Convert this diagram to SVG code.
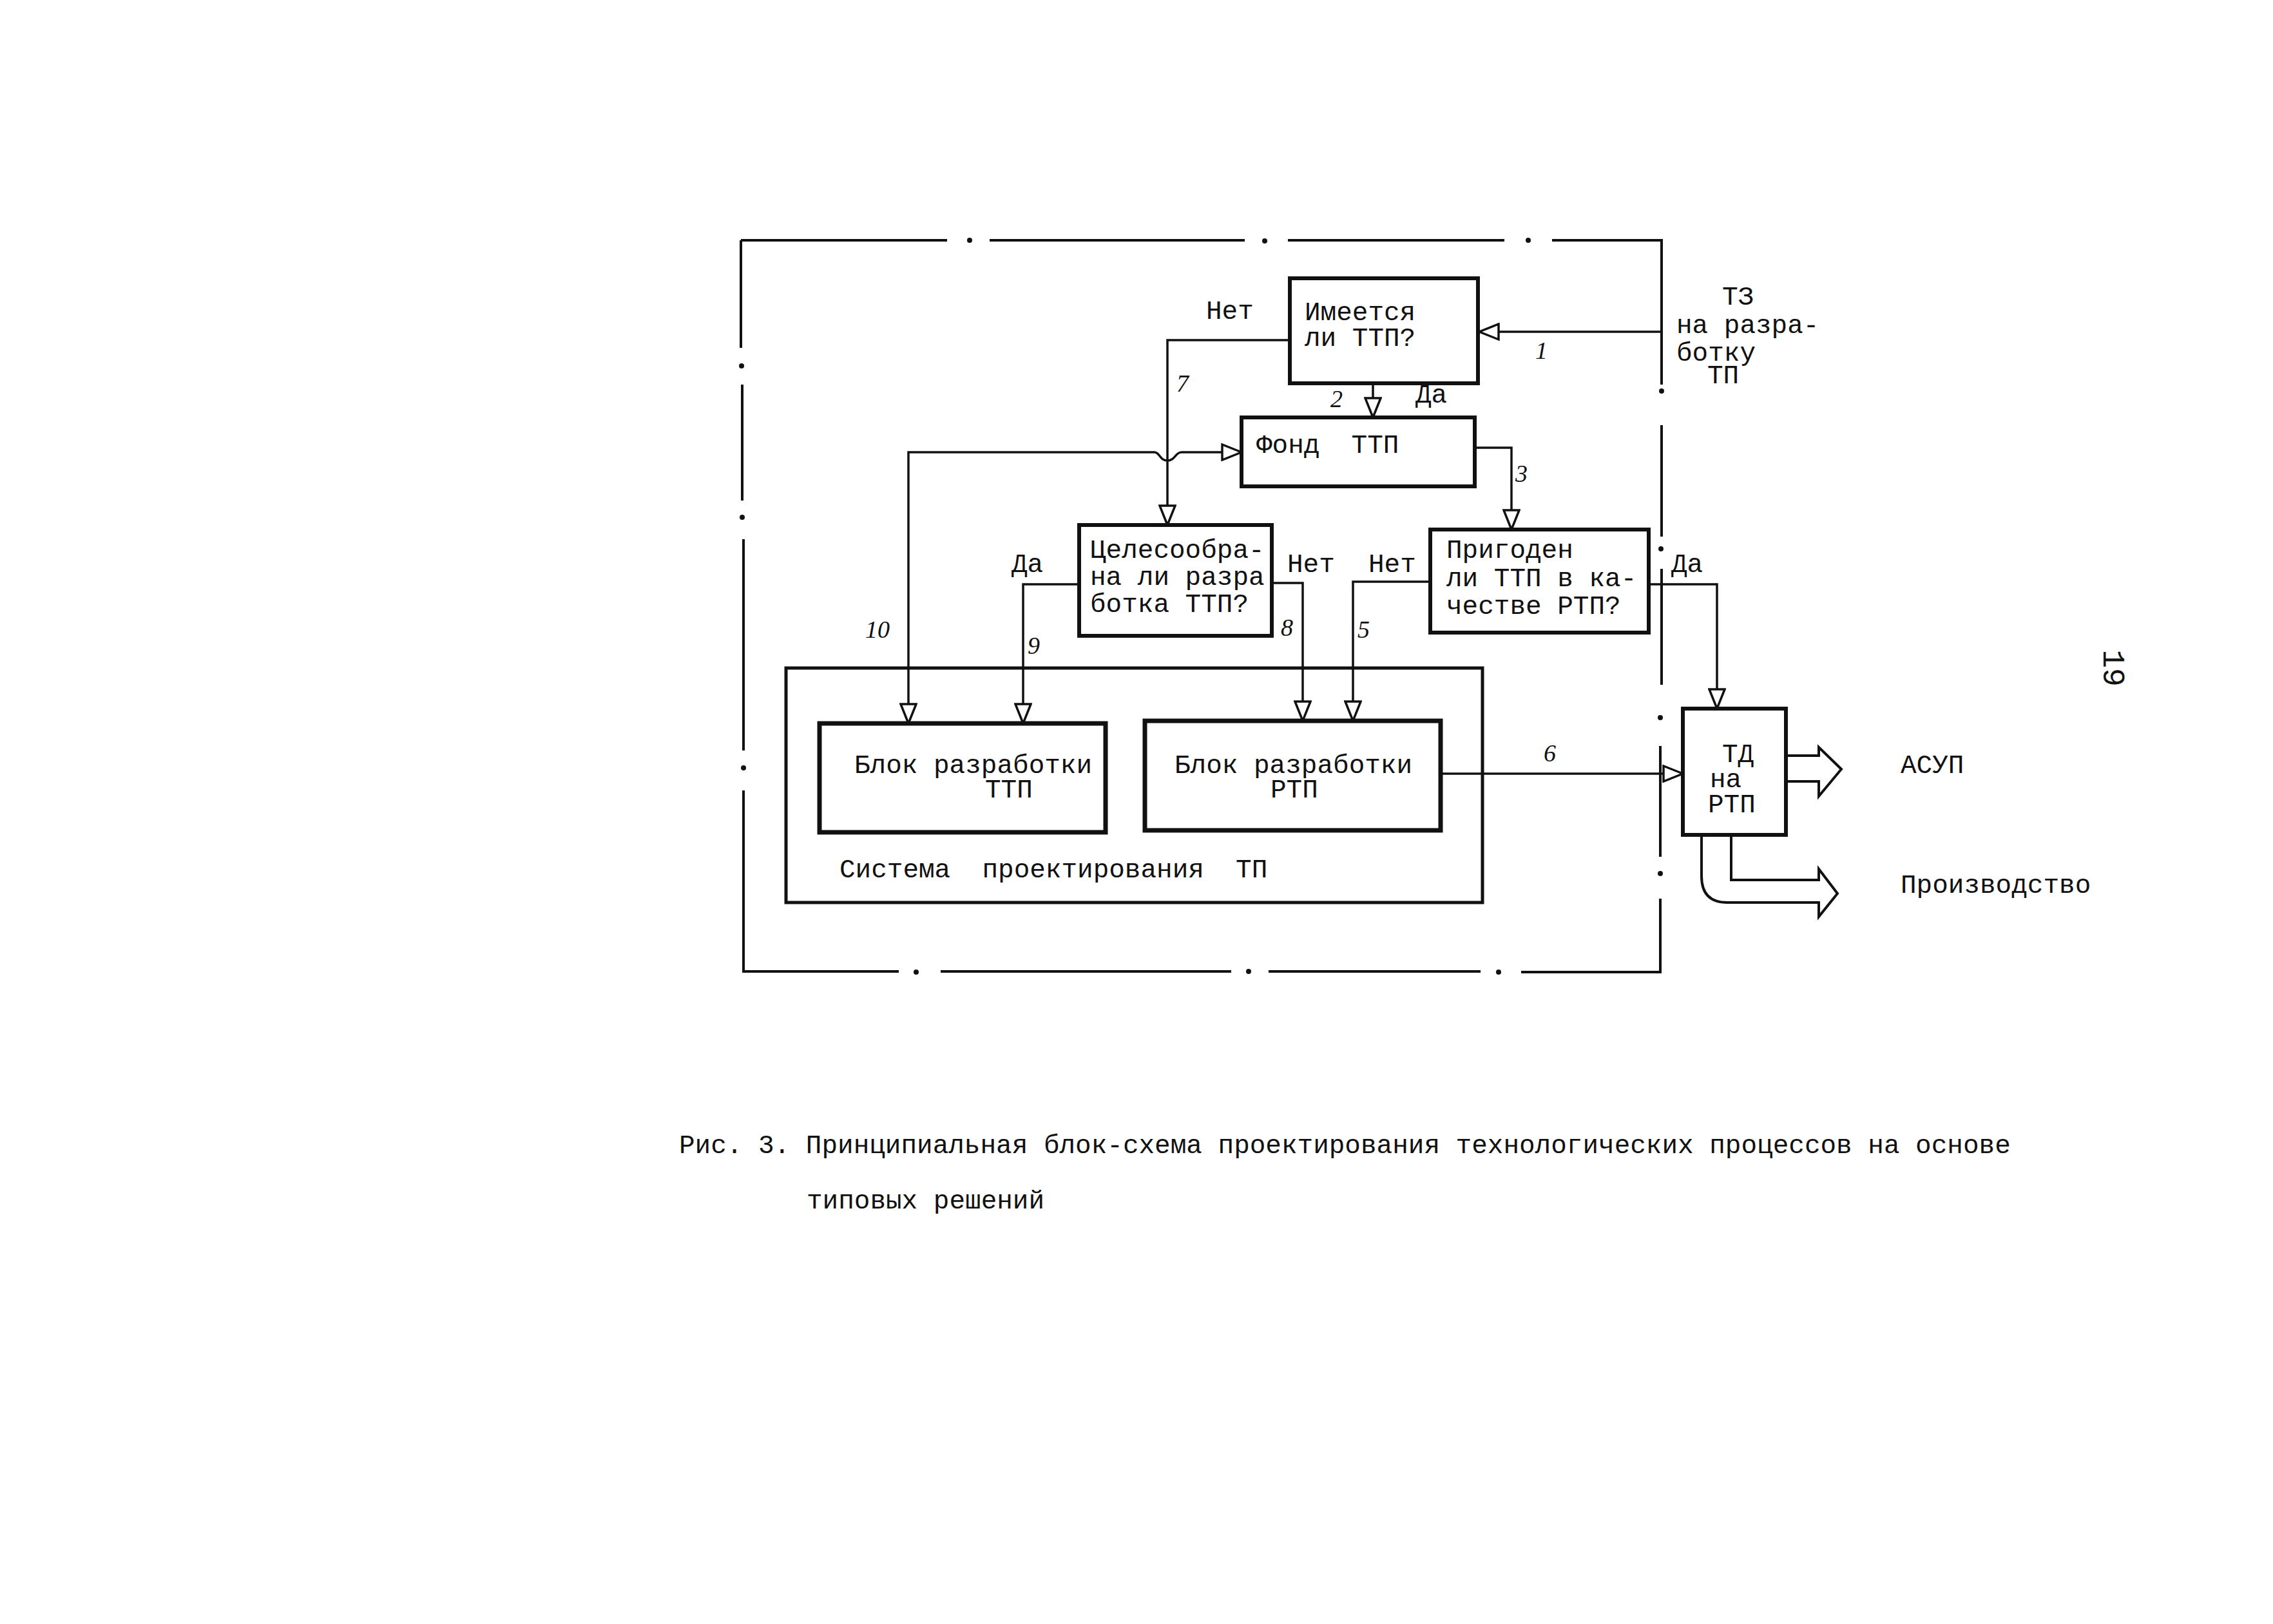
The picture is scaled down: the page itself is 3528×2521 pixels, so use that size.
<svg xmlns="http://www.w3.org/2000/svg" width="3528" height="2521" viewBox="0 0 3528 2521">
<style>
.t{font-family:"Liberation Mono","DejaVu Sans Mono",monospace;font-size:41px;fill:#111}
.n{font-family:"Liberation Serif",serif;font-style:italic;font-size:38px;fill:#111}
.box{fill:none;stroke:#111;stroke-width:6}
.frame{fill:none;stroke:#111;stroke-width:4}
.dot{fill:#111}
.c{fill:none;stroke:#111;stroke-width:3.5}
.wide{fill:none;stroke:#111;stroke-width:4;stroke-linejoin:miter}
</style>
<defs>
<marker id="ar" viewBox="0 0 34 28" refX="32" refY="14" markerWidth="34" markerHeight="28" markerUnits="userSpaceOnUse" orient="auto-start-reverse">
<path d="M2,2 L32,14 L2,26 z" fill="#fff" stroke="#111" stroke-width="3.5"/>
</marker>
</defs>
<rect width="3528" height="2521" fill="#fff"/>

<g id="outer-frame">
<path class="frame" d="M1150,373 H1470 M1536,373 H1932 M1999,373 H2335 M2409,373 H2579 V597 M2579,660 V833 M2579,883 V1063 M2577,1158 V1330 M2577,1395 V1509 H2361 M2298,1508 H1969 M1911,1508 H1460 M1395,1508 H1154 V1227 M1154,1165 V837 M1152,777 V597 M1150,540 V373"/>
<circle class="dot" cx="1505" cy="373" r="4"/>
<circle class="dot" cx="1963" cy="374" r="4"/>
<circle class="dot" cx="2372" cy="373" r="4"/>
<circle class="dot" cx="2579" cy="607" r="4"/>
<circle class="dot" cx="2578" cy="852" r="4"/>
<circle class="dot" cx="2577" cy="1114" r="4"/>
<circle class="dot" cx="2577" cy="1356" r="4"/>
<circle class="dot" cx="2326" cy="1509" r="4"/>
<circle class="dot" cx="1938" cy="1508" r="4"/>
<circle class="dot" cx="1422" cy="1509" r="4"/>
<circle class="dot" cx="1154" cy="1192" r="4"/>
<circle class="dot" cx="1152" cy="803" r="4"/>
<circle class="dot" cx="1151" cy="568" r="4"/>
</g>

<g id="tz-input">
<text class="t" x="2673" y="473">ТЗ</text>
<text class="t" x="2602" y="517">на разра-</text>
<text class="t" x="2602" y="560">ботку</text>
<text class="t" x="2650" y="595">ТП</text>
</g>

<g id="node-imeetsya">
<rect class="box" x="2002" y="432" width="292" height="163"/>
<text class="t" x="2025" y="497">Имеется</text>
<text class="t" x="2025" y="537">ли ТТП?</text>
</g>

<g id="node-fond">
<rect class="box" x="1927" y="648" width="362" height="107"/>
<text class="t" x="1950" y="703" xml:space="preserve">Фонд  ТТП</text>
</g>

<g id="node-celesoobr">
<rect class="box" x="1675" y="815" width="299" height="172"/>
<text class="t" x="1692" y="866">Целесообра-</text>
<text class="t" x="1692" y="908">на ли разра</text>
<text class="t" x="1692" y="950">ботка ТТП?</text>
</g>

<g id="node-prigoden">
<rect class="box" x="2220" y="822" width="339" height="160"/>
<text class="t" x="2245" y="866">Пригоден</text>
<text class="t" x="2245" y="910">ли ТТП в ка-</text>
<text class="t" x="2245" y="953">честве РТП?</text>
</g>

<g id="node-sistema">
<rect class="box" x="1220" y="1037" width="1081" height="364" style="stroke-width:5"/>
<text class="t" x="1303" y="1362" xml:space="preserve">Система  проектирования  ТП</text>
</g>

<g id="node-blok-ttp">
<rect class="box" x="1272" y="1123" width="444" height="169" style="stroke-width:7"/>
<text class="t" x="1326" y="1200">Блок разработки</text>
<text class="t" x="1529" y="1238">ТТП</text>
</g>

<g id="node-blok-rtp">
<rect class="box" x="1777" y="1119" width="459" height="170" style="stroke-width:7"/>
<text class="t" x="1823" y="1200">Блок разработки</text>
<text class="t" x="1972" y="1238">РТП</text>
</g>

<g id="node-td">
<rect class="box" x="2612" y="1100" width="160" height="196"/>
<text class="t" x="2673" y="1183">ТД</text>
<text class="t" x="2654" y="1222">на</text>
<text class="t" x="2651" y="1261">РТП</text>
</g>

<g id="outputs">
<text class="t" x="2950" y="1200">АСУП</text>
<text class="t" x="2950" y="1386">Производство</text>
</g>

<g id="connectors">
<path class="c" d="M2579,515 H2296" marker-end="url(#ar)"/>
<path class="c" d="M2002,528 H1812 V815" marker-end="url(#ar)"/>
<path class="c" d="M2131,595 V648" marker-end="url(#ar)"/>
<path class="c" d="M2289,695 H2346 V822" marker-end="url(#ar)"/>
<path class="c" d="M1410,1123 V702 H1792 C1800,702 1800,715 1812,715 C1824,715 1824,702 1834,702 H1927" marker-start="url(#ar)" marker-end="url(#ar)"/>
<path class="c" d="M1675,907 H1588 V1123" marker-end="url(#ar)"/>
<path class="c" d="M1974,905 H2022 V1119" marker-end="url(#ar)"/>
<path class="c" d="M2220,903 H2100 V1119" marker-end="url(#ar)"/>
<path class="c" d="M2559,907 H2665 V1100" marker-end="url(#ar)"/>
<path class="c" d="M2236,1201 H2612" marker-end="url(#ar)"/>
<path class="wide" d="M2772,1173 H2823 V1160 L2858,1194 L2823,1236 V1213 H2772"/>
<path class="wide" d="M2641,1296 V1360 Q2641,1401 2681,1401 H2823 V1423 L2852,1387 L2823,1349 V1366 H2687 V1296"/>
<text class="t" x="1872" y="495">Нет</text>
<text class="t" x="2197" y="625">Да</text>
<text class="t" x="1570" y="888">Да</text>
<text class="t" x="1998" y="888">Нет</text>
<text class="t" x="2124" y="888">Нет</text>
<text class="t" x="2594" y="888">Да</text>
<text class="n" x="2383" y="557">1</text>
<text class="n" x="2065" y="632">2</text>
<text class="n" x="2352" y="748">3</text>
<text class="n" x="2107" y="990">5</text>
<text class="n" x="2396" y="1182">6</text>
<text class="n" x="1826" y="608">7</text>
<text class="n" x="1988" y="987">8</text>
<text class="n" x="1595" y="1015">9</text>
<text class="n" x="1343" y="990">10</text>
</g>

<g id="caption">
<text class="t" x="1054" y="1790">Рис. 3. Принципиальная блок-схема проектирования технологических процессов на основе</text>
<text class="t" x="1252" y="1876">типовых решений</text>
</g>

<text class="t" x="3278" y="1037" text-anchor="middle" dominant-baseline="central" transform="rotate(90 3278 1037)" style="font-size:48px">19</text>
</svg>
